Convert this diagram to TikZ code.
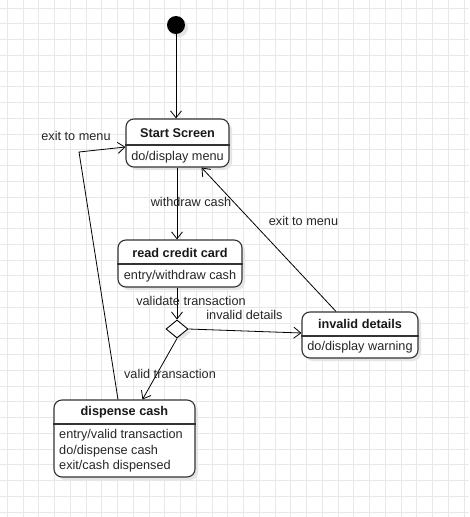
\documentclass[tikz,border=0pt]{standalone}
\usepackage{fontspec}
\setmainfont{Liberation Sans}
\usetikzlibrary{arrows.meta,shapes.geometric,shadows}
\tikzset{
  gridline/.style={draw=black!9, line width=0.8pt},
  statebox/.style={draw=black!80, line width=1.1pt, rounded corners=8pt, fill=white, inner sep=0pt,
    drop shadow={shadow xshift=3pt, shadow yshift=-3pt, fill=black!10, opacity=1}},
  divider/.style={draw=black!80, line width=1.1pt},
  title/.style={font=\fontsize{12.7pt}{15.5pt}\selectfont\bfseries, inner sep=0pt, text=black!90},
  body/.style={font=\fontsize{12.7pt}{15.5pt}\selectfont, inner sep=0pt, text=black!85},
  lbl/.style={font=\fontsize{12.7pt}{15.5pt}\selectfont, inner sep=0pt, text=black!85},
  conn/.style={draw=black, line width=0.8pt, -{Straight Barb[length=7pt,width=11pt]}},
}
\begin{document}
\begin{tikzpicture}[x=1pt,y=-1pt]
\useasboundingbox (0,0) rectangle (469,517);
\fill[white] (0,0) rectangle (469,517);
\foreach \i in {0,...,29} {\draw[gridline] (7.3+15.75*\i,0) -- (7.3+15.75*\i,517);}
\foreach \i in {0,...,32} {\draw[gridline] (0,8+15.75*\i) -- (469,8+15.75*\i);}

% initial state
\node[circle, fill=black, minimum size=18pt, inner sep=0pt,
  drop shadow={shadow xshift=3pt, shadow yshift=-3pt, fill=black!10, opacity=1}] (init) at (176,25) {};

% Start Screen
\node[statebox, minimum width=103pt, minimum height=48pt] (start) at (177.5,143) {};
\draw[divider] (start.west |- 0,145) -- (start.east |- 0,145);
\node[title] (startT) at (177.5,133) {Start Screen};
\node[body] (startB) at (177.5,157) {do/display menu};

% read credit card
\node[statebox, minimum width=124pt, minimum height=47pt] (read) at (180,263.5) {};
\draw[divider] (read.west |- 0,264) -- (read.east |- 0,264);
\node[title] (readT) at (180,253) {read credit card};
\node[body] (readB) at (180,276) {entry/withdraw cash};

% decision
\node[diamond, draw=black, line width=0.9pt, fill=white, shape aspect=1.2, minimum width=22pt, minimum height=18pt, inner sep=0pt,
  drop shadow={shadow xshift=3pt, shadow yshift=-3pt, fill=black!10, opacity=1}] (dia) at (177,329) {};

% invalid details
\node[statebox, minimum width=116pt, minimum height=46pt] (inv) at (360,335) {};
\draw[divider] (inv.west |- 0,336) -- (inv.east |- 0,336);
\node[title] (invT) at (360,324) {invalid details};
\node[body] (invB) at (360,347) {do/display warning};

% dispense cash
\node[statebox, minimum width=141pt, minimum height=77pt] (disp) at (124.5,438.5) {};
\draw[divider] (disp.west |- 0,424) -- (disp.east |- 0,424);
\node[title] (dispT) at (124.5,412) {dispense cash};
\node[body, align=left, anchor=west] (dispB) at (59,451) {entry/valid transaction\\do/dispense cash\\exit/cash dispensed};

% connectors
\draw[conn] (init) -- (init |- start.north);
\draw[conn] (start.south -| dia) -- (read.north -| dia);
\draw[conn] (read.south -| dia) -- (dia.north);
\draw[conn] (dia.east) -- ([yshift=2pt]inv.west);
\draw[conn] ([xshift=-24pt]inv.north) -- ([xshift=24pt]start.south);
\draw[conn] (dia.south) -- ([xshift=18pt]disp.north);
\coordinate (bend) at (79,152);
\draw[conn] ([xshift=-6.5pt]disp.north) -- (bend) -- ([yshift=-4pt]start.west);

% labels
\node[lbl] (l1) at (76,136) {exit to menu};
\node[lbl] (l2) at (191,202) {withdraw cash};
\node[lbl] (l3) at (303.5,221) {exit to menu};
\node[lbl] (l4) at (191,301) {validate transaction};
\node[lbl] (l5) at (244.5,315) {invalid details};
\node[lbl] (l6) at (170,374) {valid transaction};
\end{tikzpicture}
\end{document}
